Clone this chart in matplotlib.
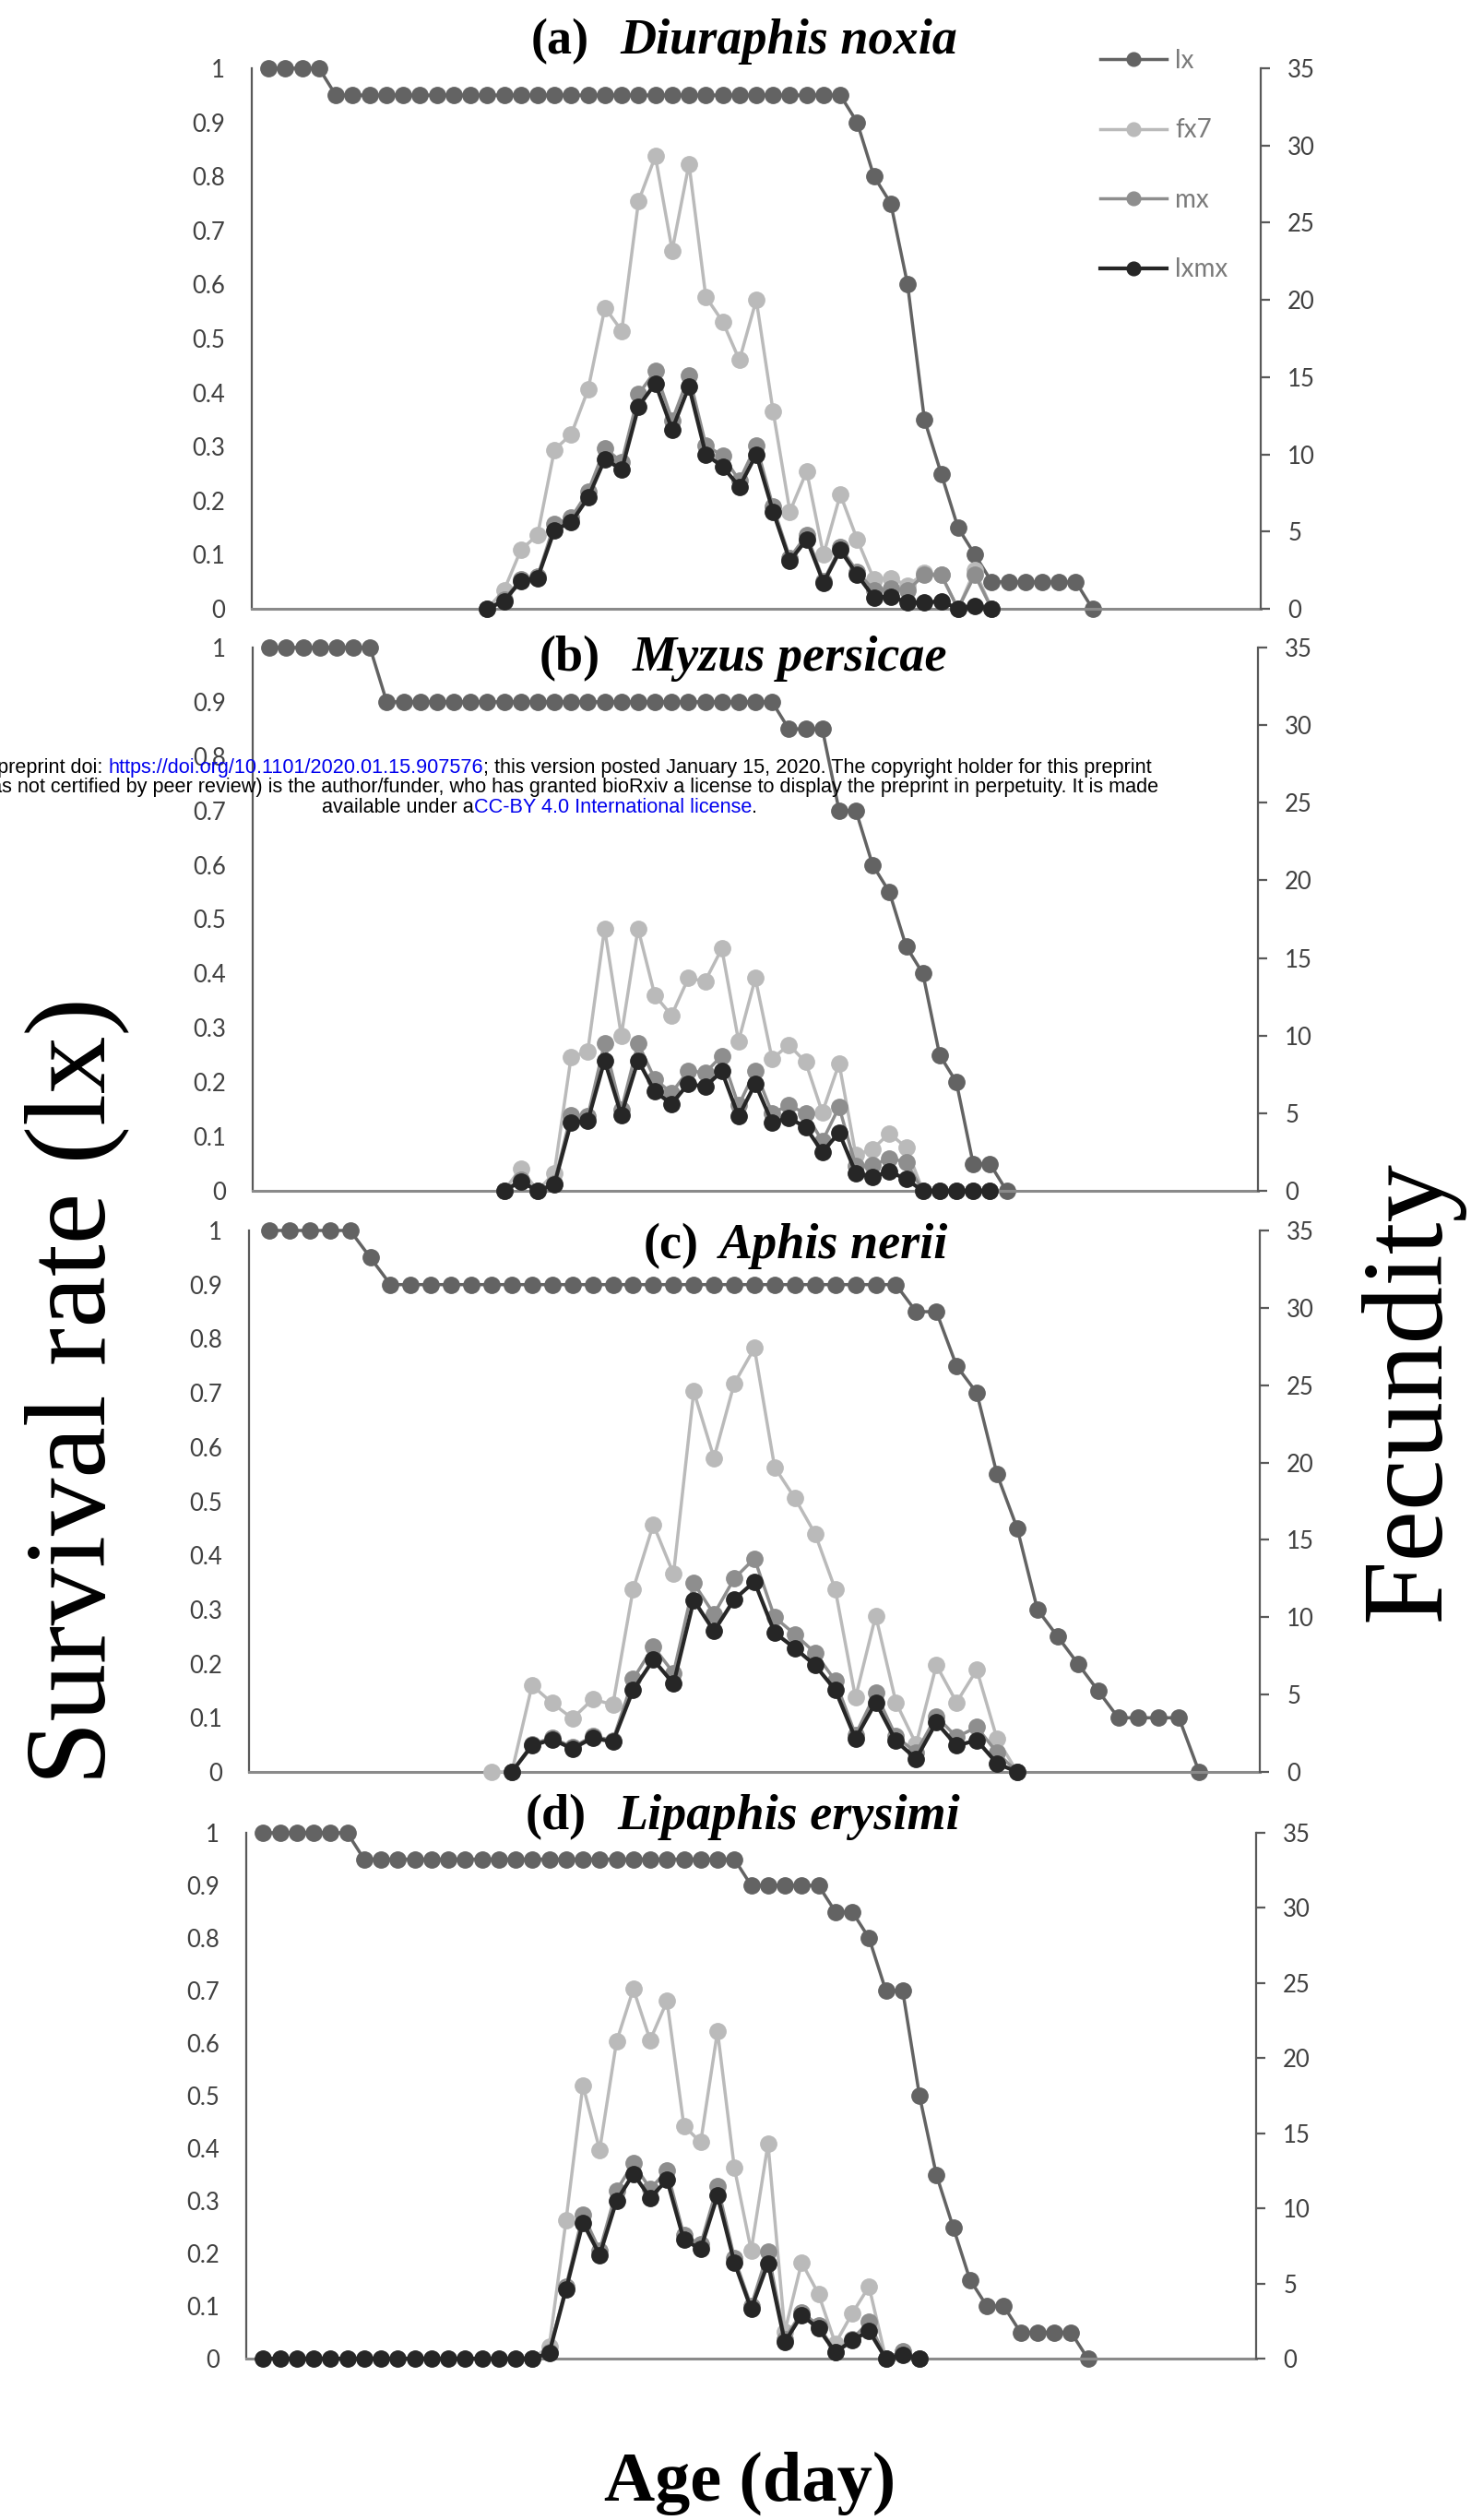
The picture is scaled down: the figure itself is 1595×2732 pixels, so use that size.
import matplotlib
matplotlib.use("Agg")
import matplotlib.pyplot as plt

W, H, DPI = 1595, 2732, 100

# ------------------------------------------------------------------ data
panel_tags = ["(a)", "(b)", "(c)", "(d)"]
species = ["Diuraphis noxia", "Myzus persicae", "Aphis nerii", "Lipaphis erysimi"]
series_names = ["lx", "fx7", "mx", "lxmx"]

left_ticks = [0, 0.1, 0.2, 0.3, 0.4, 0.5, 0.6, 0.7, 0.8, 0.9, 1.0]
left_labels = ["0", "0.1", "0.2", "0.3", "0.4", "0.5", "0.6", "0.7", "0.8", "0.9", "1"]
right_ticks = [0, 5, 10, 15, 20, 25, 30, 35]
right_labels = ["0", "5", "10", "15", "20", "25", "30", "35"]
x_ticks = [0, 10, 20, 30, 40, 50, 60]
x_labels = ["0", "10", "20", "30", "40", "50", "60"]
x_max = [60, 60, 50, 60]

# (a) Diuraphis noxia
age_lx_a = list(range(1, 51))
lx_a = [1.0, 1.0, 1.0, 1.0,
        0.95, 0.95, 0.95, 0.95, 0.95, 0.95, 0.95, 0.95, 0.95, 0.95,
        0.95, 0.95, 0.95, 0.95, 0.95, 0.95, 0.95, 0.95, 0.95, 0.95,
        0.95, 0.95, 0.95, 0.95, 0.95, 0.95, 0.95, 0.95, 0.95, 0.95,
        0.95,
        0.9, 0.8, 0.75, 0.6, 0.35, 0.25, 0.15, 0.1,
        0.05, 0.05, 0.05, 0.05, 0.05, 0.05, 0.0]
age_f_a = list(range(14, 45))
fx7_a = [0, 1.2, 3.8, 4.8, 10.3, 11.3, 14.2, 19.5, 18.0, 26.4, 29.3, 23.2, 28.8,
         20.2, 18.6, 16.1, 20.0, 12.8, 6.3, 8.9, 3.5, 7.4, 4.5, 1.9, 2.0, 1.5,
         2.3, 2.2, 0, 2.5, 0]
age_m_a = list(range(14, 45))
mx_a = [0, 0.6, 1.9, 2.1, 5.5, 5.9, 7.6, 10.4, 9.5, 13.9, 15.4, 12.2, 15.1,
        10.6, 9.9, 8.3, 10.6, 6.6, 3.3, 4.8, 1.8, 4.0, 2.4, 1.2, 1.3, 1.2,
        2.2, 2.2, 0, 2.2, 0]
lxmx_a = [0, 0.5, 1.8, 2.0, 5.1, 5.6, 7.2, 9.7, 9.0, 13.1, 14.6, 11.6, 14.4,
          10.0, 9.2, 7.9, 10.0, 6.3, 3.1, 4.5, 1.7, 3.8, 2.2, 0.74, 0.8, 0.4,
          0.4, 0.5, 0, 0.2, 0]

# (b) Myzus persicae
age_lx_b = list(range(1, 46))
lx_b = [1.0, 1.0, 1.0, 1.0, 1.0, 1.0, 1.0,
        0.9, 0.9, 0.9, 0.9, 0.9, 0.9, 0.9, 0.9, 0.9, 0.9,
        0.9, 0.9, 0.9, 0.9, 0.9, 0.9, 0.9, 0.9, 0.9, 0.9,
        0.9, 0.9, 0.9, 0.9,
        0.85, 0.85, 0.85, 0.7, 0.7, 0.6, 0.55, 0.45, 0.4, 0.25, 0.2,
        0.05, 0.05, 0.0]
age_f_b = list(range(15, 45))
fx7_b = [0, 1.45, 0, 1.15, 8.6, 9.0, 16.9, 10.0, 16.9, 12.6, 11.3, 13.7, 13.5,
         15.6, 9.65, 13.7, 8.5, 9.4, 8.3, 5.05, 8.2, 2.3, 2.7, 3.7, 2.8,
         0, 0, 0, 0, 0]
age_m_b = list(range(15, 45))
mx_b = [0, 0.7, 0, 0.5, 4.9, 4.8, 9.5, 5.2, 9.5, 7.2, 6.3, 7.75, 7.6, 8.7, 5.5,
        7.75, 5.0, 5.5, 5.0, 3.2, 5.4, 1.6, 1.65, 2.1, 1.85, 0, 0, 0, 0, 0]
lxmx_b = [0, 0.6, 0, 0.4, 4.4, 4.5, 8.4, 4.9, 8.4, 6.4, 5.6, 6.9, 6.7, 7.7, 4.8,
          6.9, 4.4, 4.7, 4.1, 2.5, 3.75, 1.15, 0.9, 1.25, 0.75, 0, 0, 0, 0, 0]

# (c) Aphis nerii
age_lx_c = list(range(1, 48))
lx_c = [1.0, 1.0, 1.0, 1.0, 1.0, 0.95,
        0.9, 0.9, 0.9, 0.9, 0.9, 0.9, 0.9, 0.9, 0.9, 0.9,
        0.9, 0.9, 0.9, 0.9, 0.9, 0.9, 0.9, 0.9, 0.9, 0.9,
        0.9, 0.9, 0.9, 0.9, 0.9, 0.9,
        0.85, 0.85, 0.75, 0.7, 0.55, 0.45, 0.3, 0.25, 0.2, 0.15,
        0.1, 0.1, 0.1, 0.1, 0.0]
age_f_c = list(range(12, 39))
fx7_c = [0, 0, 5.6, 4.45, 3.45, 4.7, 4.35, 11.8, 16.0, 12.8, 24.6, 20.3, 25.1,
         27.4, 19.7, 17.7, 15.4, 11.8, 4.8, 10.1, 4.5, 1.8, 6.9, 4.5, 6.6,
         2.15, 0]
age_m_c = list(range(13, 39))
mx_c = [0, 1.8, 2.2, 1.6, 2.3, 2.05, 6.0, 8.1, 6.4, 12.2, 10.2, 12.5, 13.8,
        10.0, 8.9, 7.7, 5.9, 2.4, 5.1, 2.3, 1.25, 3.6, 2.25, 2.9, 1.25, 0]
lxmx_c = [0, 1.7, 2.1, 1.5, 2.2, 1.95, 5.3, 7.25, 5.7, 11.1, 9.1, 11.15, 12.3,
          9.0, 8.0, 6.9, 5.3, 2.15, 4.5, 2.0, 0.85, 3.2, 1.7, 2.05, 0.55, 0]

# (d) Lipaphis erysimi
age_lx_d = list(range(1, 51))
lx_d = [1.0, 1.0, 1.0, 1.0, 1.0, 1.0,
        0.95, 0.95, 0.95, 0.95, 0.95, 0.95, 0.95, 0.95, 0.95, 0.95,
        0.95, 0.95, 0.95, 0.95, 0.95, 0.95, 0.95, 0.95, 0.95, 0.95,
        0.95, 0.95, 0.95,
        0.9, 0.9, 0.9, 0.9, 0.9, 0.85, 0.85, 0.8, 0.7, 0.7,
        0.5, 0.35, 0.25, 0.15, 0.1, 0.1,
        0.05, 0.05, 0.05, 0.05, 0.0]
age_f_d = list(range(17, 41))
fx7_d = [0, 0.8, 9.2, 18.2, 13.9, 21.1, 24.6, 21.2, 23.8, 15.5, 14.4, 21.8,
         12.7, 7.2, 14.3, 1.8, 6.4, 4.3, 1.0, 3.0, 4.8, 0, 0.4, 0]
age_m_d = list(range(17, 41))
mx_d = [0, 0.4, 4.8, 9.6, 7.2, 11.2, 13.0, 11.3, 12.5, 8.2, 7.6, 11.5, 6.7,
        3.5, 7.1, 1.3, 3.1, 2.2, 0.45, 1.3, 2.45, 0, 0.5, 0]
age_lxmx_d = list(range(1, 41))
lxmx_d = [0, 0, 0, 0, 0, 0, 0, 0, 0, 0, 0, 0, 0, 0, 0, 0, 0,
          0.37, 4.6, 9.05, 6.9, 10.5, 12.3, 10.7, 11.9, 7.9, 7.3, 10.85, 6.4,
          3.3, 6.35, 1.1, 2.9, 2.0, 0.4, 1.2, 1.85, 0, 0.25, 0]

panels = [
    dict(age_lx=age_lx_a, lx=lx_a, age_f=age_f_a, fx7=fx7_a, age_m=age_m_a, mx=mx_a,
         age_lxmx=age_m_a, lxmx=lxmx_a),
    dict(age_lx=age_lx_b, lx=lx_b, age_f=age_f_b, fx7=fx7_b, age_m=age_m_b, mx=mx_b,
         age_lxmx=age_m_b, lxmx=lxmx_b),
    dict(age_lx=age_lx_c, lx=lx_c, age_f=age_f_c, fx7=fx7_c, age_m=age_m_c, mx=mx_c,
         age_lxmx=age_m_c, lxmx=lxmx_c),
    dict(age_lx=age_lx_d, lx=lx_d, age_f=age_f_d, fx7=fx7_d, age_m=age_m_d, mx=mx_d,
         age_lxmx=age_lxmx_d, lxmx=lxmx_d),
]

# ------------------------------------------------------------------ style
plt.rcParams["font.family"] = ["Lato", "DejaVu Sans"]
SERIF = ["Liberation Serif", "DejaVu Serif"]
SANS = ["Liberation Sans", "DejaVu Sans"]

C_LX, C_FX, C_MX, C_LXMX = "#636363", "#bababa", "#8e8e8e", "#262626"
LW, MS = 2.5, 12.5
TICK_FS = 18.5
TICK_C = "#404040"
TITLE_FS = 39

# plot-area boxes in pixels: left, right, top, bottom
boxes = [(273, 1367, 74, 660), (274, 1364, 702, 1291),
         (270, 1366, 1334, 1921), (267, 1362, 1987, 2557)]
# title placement: tag right edge, species left edge, baseline (px)
title_pos = [(639, 672, 58), (651, 686, 727), (758, 780, 1364), (636, 669, 1983)]

fig = plt.figure(figsize=(W / DPI, H / DPI), dpi=DPI)
fig.patch.set_facecolor("white")

handles = None
for i, (p, box) in enumerate(zip(panels, boxes)):
    l, r, t, b = box
    ax = fig.add_axes([l / W, 1 - b / H, (r - l) / W, (b - t) / H])
    ax2 = ax.twinx()
    ax.set_zorder(1)
    ax2.set_zorder(2)
    ax.patch.set_visible(False)
    ax2.patch.set_visible(False)

    kw = dict(lw=LW, marker="o", ms=MS, clip_on=False)
    h1, = ax.plot(p["age_lx"], p["lx"], color=C_LX, mec=C_LX, mfc=C_LX, **kw)
    h2, = ax2.plot(p["age_f"], p["fx7"], color=C_FX, mec=C_FX, mfc=C_FX, **kw)
    h3, = ax2.plot(p["age_m"], p["mx"], color=C_MX, mec=C_MX, mfc=C_MX, **kw)
    h4, = ax2.plot(p["age_lxmx"], p["lxmx"], color=C_LXMX, mec=C_LXMX, mfc=C_LXMX,
                   **dict(kw, lw=3.0))
    if i == 0:
        handles = [h1, h2, h3, h4]

    ax.set_xlim(0, x_max[i])
    ax.set_ylim(0, 1)
    ax2.set_ylim(0, 35)
    ax.set_yticks(left_ticks)
    ax.set_yticklabels(left_labels)
    ax2.set_yticks(right_ticks)
    ax2.set_yticklabels(right_labels)
    ax.tick_params(axis="y", length=0, pad=21, labelsize=TICK_FS, labelcolor=TICK_C)
    ax2.tick_params(axis="y", length=7, width=1.6, color="#595959", pad=14,
                    labelsize=TICK_FS, labelcolor=TICK_C)
    if i == 3:
        ax.set_xticks(x_ticks)
        ax.set_xticklabels(x_labels)
        ax.tick_params(axis="x", length=0, pad=24, labelsize=TICK_FS, labelcolor=TICK_C)
    else:
        ax.set_xticks([])
    ax2.set_xticks([])

    for s in ("top", "right"):
        ax.spines[s].set_visible(False)
    for s in ("top", "left", "bottom"):
        ax2.spines[s].set_visible(False)
    ax.spines["left"].set_color("#595959")
    ax.spines["left"].set_linewidth(1.6)
    ax.spines["bottom"].set_color("#8a8a8a")
    ax.spines["bottom"].set_linewidth(2.2)
    ax2.spines["right"].set_color("#595959")
    ax2.spines["right"].set_linewidth(1.6)

    tr, sl, base = title_pos[i]
    fig.text(tr / W, 1 - base / H, panel_tags[i], ha="right", va="baseline",
             fontsize=TITLE_FS, fontweight="bold", family=SERIF)
    fig.text(sl / W, 1 - base / H, species[i], ha="left", va="baseline",
             fontsize=TITLE_FS, fontweight="bold", fontstyle="italic", family=SERIF)

# legend (panel a)
fig.legend(handles, series_names, loc="upper left",
           bbox_to_anchor=(1193 / W, 1 - 53 / H), bbox_transform=fig.transFigure,
           frameon=False, fontsize=20, labelcolor="#7a7a7a", handlelength=2.6,
           handletextpad=0.32, labelspacing=1.78, borderpad=0, borderaxespad=0,
           numpoints=1, markerscale=0.85)

# axis titles
fig.text(83 / W, 1 - 1508 / H, "Survival rate (lx)", rotation=90, ha="center",
         va="center", fontsize=90, family=SERIF)
fig.text(1530 / W, 1 - 1508 / H, "Fecundity", rotation=90, ha="center",
         va="center", fontsize=90, family=SERIF)
fig.text(813 / W, 1 - 2692 / H, "Age (day)", ha="center", va="center",
         fontsize=55, fontweight="bold", family=SERIF)

# preprint notice overlay
renderer = fig.canvas.get_renderer()


def text_width(s, fs):
    t1 = fig.text(0, 0, s + "|", fontsize=fs, family=SANS)
    w1 = t1.get_window_extent(renderer).width
    t1.remove()
    t2 = fig.text(0, 0, "|", fontsize=fs, family=SANS)
    w2 = t2.get_window_extent(renderer).width
    t2.remove()
    return w1 - w2


visible1 = ("preprint doi: https://doi.org/10.1101/2020.01.15.907576; this version posted "
            "January 15, 2020. The copyright holder for this preprint")
fs_p = 14 * 1256 / text_width(visible1, 14)

notice = [
    ([("bioRxiv preprint doi: ", "black"),
      ("https://doi.org/10.1101/2020.01.15.907576", "#0000ee"),
      ("; this version posted January 15, 2020. The copyright holder for this preprint",
       "black")], "right", 1249, 838),
    ([("(which was not certified by peer review) is the author/funder, who has granted "
       "bioRxiv a license to display the preprint in perpetuity. It is made", "black")],
     "right", 1256, 859),
    ([("available under a", "black"), ("CC-BY 4.0 International license", "#0000ee"),
      (".", "black")], "center", 585, 881),
]
for segs, align, xref, ybase in notice:
    full = "".join(s for s, _ in segs)
    total = text_width(full, fs_p)
    x0 = xref - total if align == "right" else xref - total / 2
    prefix = ""
    for s, c in segs:
        x = x0 + (text_width(prefix, fs_p) if prefix else 0)
        fig.text(x / W, 1 - ybase / H, s, color=c, fontsize=fs_p, family=SANS,
                 ha="left", va="baseline", zorder=10)
        prefix += s

fig.savefig("out.png", dpi=DPI, facecolor="white")
